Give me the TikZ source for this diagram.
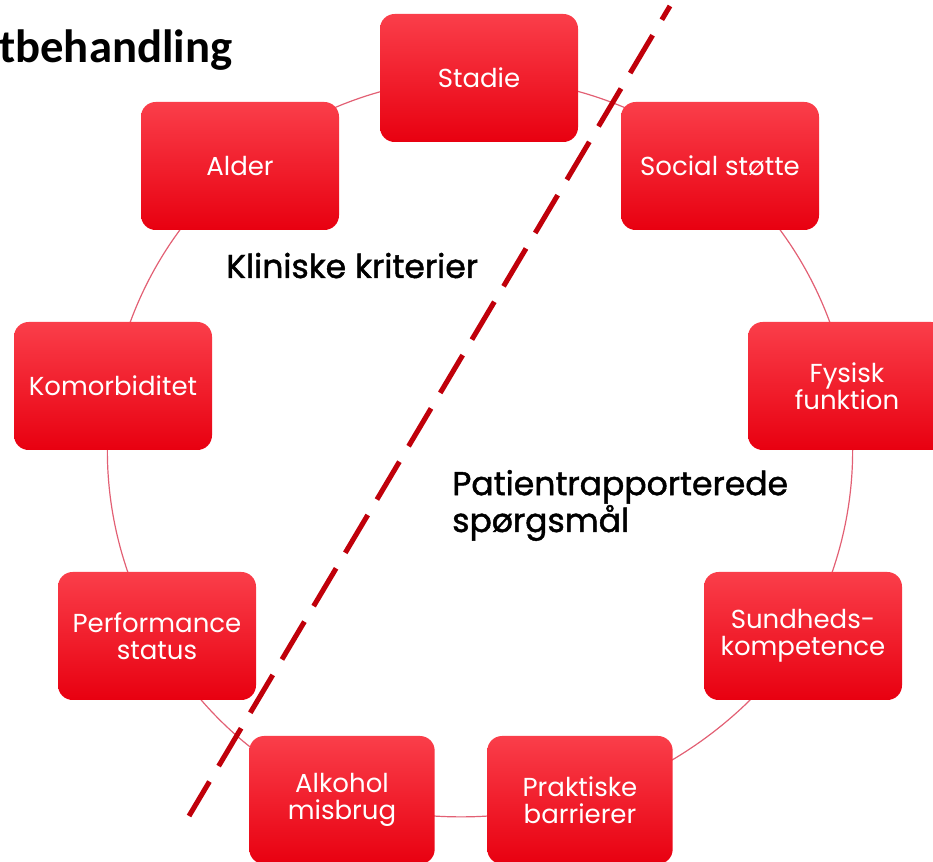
\documentclass[tikz,border=0pt]{standalone}
\usepackage{fontspec}
\setmainfont{Poppins}
\newfontfamily\titlefont{Carlito}
\newfontfamily\labelfont[FakeBold=1.4]{Poppins}
\usepackage{tikz}
\usetikzlibrary{backgrounds}
\definecolor{boxtopcolor}{RGB}{250,62,74}
\definecolor{boxbottomcolor}{RGB}{232,0,16}
\definecolor{linkcolor}{RGB}{226,96,116}
\definecolor{cutcolor}{RGB}{192,0,10}
\tikzset{
    factor/.style={rectangle, rounded corners=11pt, minimum width=148.5pt,
        minimum height=96pt, top color=boxtopcolor, middle color=boxbottomcolor,
        bottom color=boxbottomcolor, text=white, align=center, inner sep=2pt,
        font=\fontsize{19.5}{20}\selectfont},
    factorsmall/.style={factor, minimum width=139pt},
    link/.style={draw=linkcolor, line width=0.9pt, bend left=20, looseness=0.88},
    cut/.style={draw=cutcolor, line width=3.8pt, dash pattern=on 33pt off 13.5pt, dash phase=21pt},
    heading/.style={font=\labelfont\fontsize{24.75}{26.25}\selectfont, align=left, inner sep=0pt}
}

\begin{document}
\begin{tikzpicture}[x=0.75pt, y=-0.75pt]
\useasboundingbox (0,0) rectangle (933,862);

\node[anchor=base west, inner sep=0pt, font=\titlefont\bfseries\fontsize{35}{40}\selectfont] (title) at (-1,63) {tbehandling};

% faktorer rundt om cirklen
\node[factor] (stadie) at (479,78) {Stadie};
\node[factor] (social) at (720,166) {Social støtte};
\node[factor] (fysisk) at (847,386) {Fysisk\\funktion};
\node[factor] (sundhed) at (803,636) {Sundheds-\\kompetence};
\node[factorsmall] (praktisk) at (580,800) {Praktiske\\barrierer};
\node[factorsmall] (alkohol) at (342,800) {Alkohol\\misbrug};
\node[factor] (perform) at (157,636) {Performance\\status};
\node[factor] (komorb) at (113,386) {Komorbiditet};
\node[factor] (alder) at (240,166) {Alder};

% cirklen bag boksene
\begin{scope}[on background layer]
\draw[link] (stadie.center) to (social.center);
\draw[link] (social.center) to (fysisk.center);
\draw[link] (fysisk.center) to (sundhed.center);
\draw[link] (sundhed.center) to (praktisk.center);
\draw[link, bend left=16] (praktisk.center) to (alkohol.center);
\draw[link] (alkohol.center) to (perform.center);
\draw[link] (perform.center) to (komorb.center);
\draw[link] (komorb.center) to (alder.center);
\draw[link] (alder.center) to (stadie.center);
\end{scope}

% skillelinje
\coordinate (cut top) at (670,6);
\coordinate (cut bottom) at (189,816);
\draw[cut] (cut top) -- (cut bottom);

\node[heading, anchor=base west] (klinisk) at (226,278) {Kliniske kriterier};
\node[heading, anchor=base west] (patient) at (452,532) {Patientrapporterede\\spørgsmål};
\end{tikzpicture}
\end{document}
